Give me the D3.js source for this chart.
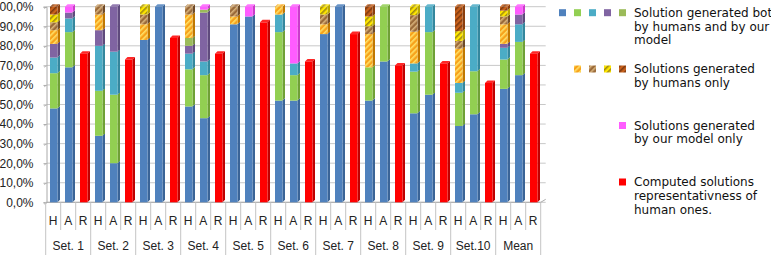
<!DOCTYPE html>
<html>
<head>
<meta charset="utf-8">
<script src="https://cdn.jsdelivr.net/npm/d3@7"></script>
<style>
  body { margin: 0; background: #fff; }
  svg { display: block; }
  .aLabel { font-family: "Liberation Sans", Arial, sans-serif; font-size: 12px; fill: #222; }
  .legText { font-family: "DejaVu Sans", sans-serif; font-size: 12px; fill: #111; }
</style>
</head>
<body>
<div id="chart"></div>
<script>
var width = 771;
var height = 255;

// categories
var sets = ["Set. 1", "Set. 2", "Set. 3", "Set. 4", "Set. 5", "Set. 6", "Set. 7", "Set. 8", "Set. 9", "Set.10", "Mean"];
var kinds = ["H", "A", "R"];
var yTicks = ["0,0%", "10,0%", "20,0%", "30,0%", "40,0%", "50,0%", "60,0%", "70,0%", "80,0%", "90,0%", "100,0%"];

// series values, one per category (Set1 H, A, R, Set2 H, A, R, ...)
var blue    = [48, 69, 0,  34, 20, 0,  83, 100, 0,  49, 43, 0,  91, 95, 0,  52, 52, 0,  86, 100, 0,  52, 72, 0,  45.5, 55, 0,  39, 45, 0,  58, 65, 0];
var green   = [18, 18, 0,  23, 35, 0,  0, 0, 0,    19, 22, 0,  0, 0, 0,    35, 13, 0,  0, 0, 0,     17, 28, 0,  21.3, 32, 0,  17, 22, 0,  15, 17, 0];
var cyan    = [8, 7, 0,    23, 22, 0,  0, 0, 0,    8, 7, 0,    0, 0, 0,    9, 6, 0,    0, 0, 0,     0, 0, 0,    4.2, 13, 0,   5, 33, 0,   6, 9, 0];
var purple  = [7, 3, 0,    8, 23, 0,   0, 0, 0,    4, 25, 0,   0, 0, 0,    0, 0, 0,    0, 0, 0,     0, 0, 0,    0, 0, 0,      0, 0, 0,    2, 5, 0];
var olive   = [0, 0, 0,    0, 0, 0,    0, 0, 0,    4, 1.5, 0,  0, 0, 0,    0, 0, 0,    0, 0, 0,     0, 0, 0,    0, 0, 0,      0, 0, 0,    0, 0, 0];
var hOrange = [7, 0, 0,    8, 0, 0,    8, 0, 0,    12, 0, 0,   4, 0, 0,    4, 0, 0,    5, 0, 0,     17, 0, 0,   16.2, 0, 0,   17.5, 0, 0, 10, 0, 0];
var hBrown  = [4, 0, 0,    4, 0, 0,    5, 0, 0,    4, 0, 0,    5, 0, 0,    0, 0, 0,    5, 0, 0,     4, 0, 0,    8.5, 0, 0,    4, 0, 0,    4, 0, 0];
var hYellow = [4, 0, 0,    0, 0, 0,    4, 0, 0,    0, 0, 0,    0, 0, 0,    0, 0, 0,    4, 0, 0,     5, 0, 0,    4.3, 0, 0,    5, 0, 0,    3, 0, 0];
var hDark   = [4, 0, 0,    0, 0, 0,    0, 0, 0,    0, 0, 0,    0, 0, 0,    0, 0, 0,    0, 0, 0,     5, 0, 0,    0, 0, 0,      12.5, 0, 0, 2, 0, 0];
var pink    = [0, 3, 0,    0, 0, 0,    0, 0, 0,    0, 1.5, 0,  0, 5, 0,    0, 29, 0,   0, 0, 0,     0, 0, 0,    0, 0, 0,      0, 0, 0,    0, 4, 0];
var red     = [0, 0, 76,   0, 0, 73,   0, 0, 84,   0, 0, 76,   0, 0, 92,   0, 0, 72,   0, 0, 86,    0, 0, 70,   0, 0, 71,     0, 0, 61,   0, 0, 76];

var seriesNames = ["blue", "green", "cyan", "purple", "olive", "hOrange", "hBrown", "hYellow", "hDark", "pink", "red"];
var seriesVals = [blue, green, cyan, purple, olive, hOrange, hBrown, hYellow, hDark, pink, red];
var fills = {
  blue: "#4F81BD", green: "#92CF52", cyan: "#4BACC6", purple: "#8064A2", olive: "#9BBB59",
  hOrange: "url(#pOrange)", hBrown: "url(#pBrown)", hYellow: "url(#pYellow)", hDark: "url(#pDark)",
  pink: "#FF5CFF", red: "#FF0000"
};
var sides = {
  blue: "#3A6497", green: "#6FA036", cyan: "#34879D", purple: "#5F4A7C", olive: "#778F43",
  hOrange: "#C07800", hBrown: "#6E4A28", hYellow: "#B8A800", hDark: "#8C3E0C",
  pink: "#CC3ACC", red: "#C00000"
};

var categories = [];
sets.forEach(function(s) {
  kinds.forEach(function(k) { categories.push(s + "|" + k); });
});

var table = categories.map(function(c, i) {
  var row = { cat: c };
  seriesNames.forEach(function(n, j) { row[n] = seriesVals[j][i]; });
  return row;
});
var stacked = d3.stack().keys(seriesNames)(table);

var svg = d3.select("#chart")
  .append("svg")
  .attr("width", width)
  .attr("height", height);

// hatch patterns
var defs = svg.append("defs");
function hatch(id, base, stripe) {
  var p = defs.append("pattern")
    .attr("id", id)
    .attr("patternUnits", "userSpaceOnUse")
    .attr("width", 4).attr("height", 4)
    .attr("patternTransform", "rotate(-45)");
  p.append("rect").attr("width", 4).attr("height", 4).attr("fill", base);
  p.append("rect").attr("width", 4).attr("height", 1.6).attr("fill", stripe);
}
hatch("pOrange", "#F7A21B", "#FFE066");
hatch("pBrown", "#9A6A3A", "#D8B27A");
hatch("pYellow", "#FFE800", "#A08A10");
hatch("pDark", "#C8611C", "#7E3A10");

var x0 = 45.7, bandW = 15;
var ScaleX = d3.scaleBand()
  .domain(categories)
  .range([x0, x0 + bandW * categories.length])
  .paddingInner(0).paddingOuter(0);
var ScaleY = d3.scaleLinear()
  .domain([0, 100])
  .range([202.3, 6.7]);

var depth = 2.5;
var barOff = 4.3, barW = 7.5;

// gridlines (back wall)
var grid = svg.append("g").attr("class", "grid");
d3.range(0, 101, 10).forEach(function(v) {
  var y = ScaleY(v);
  grid.append("line")
    .attr("x1", 47).attr("x2", x0 + bandW * categories.length + 5)
    .attr("y1", y).attr("y2", y)
    .attr("stroke", "#c8c8c8").attr("stroke-width", 1);
  grid.append("line")
    .attr("x1", 44).attr("x2", 47)
    .attr("y1", y + 2).attr("y2", y)
    .attr("stroke", "#c8c8c8");
});

// y axis
var Y_Axis = d3.axisLeft(ScaleY)
  .tickValues(d3.range(0, 101, 10))
  .tickFormat(function(d, i) { return yTicks[i]; })
  .tickSize(3)
  .tickPadding(10);
var yAxisG = svg.append("g")
  .attr("class", "Y_Axis")
  .attr("transform", "translate(46.5,0)")
  .call(Y_Axis);
yAxisG.select(".domain").attr("stroke", "#aaa");
yAxisG.selectAll(".tick line").attr("stroke", "#aaa");
yAxisG.selectAll(".tick text").attr("class", "aLabel").attr("font-size", null).attr("font-family", null);

// floor line
svg.append("path")
  .attr("d", "M" + x0 + "," + ScaleY(0) + "H" + (x0 + bandW * categories.length) + "l5,-3")
  .attr("fill", "none").attr("stroke", "#aaa");

// bars
var barsG = svg.append("g").attr("class", "bars");
stacked.forEach(function(layer) {
  var key = layer.key;
  layer.forEach(function(d, i) {
    if (d[1] - d[0] <= 0) return;
    var bx = ScaleX(categories[i]) + barOff;
    var yTop = ScaleY(d[1]);
    var yBot = ScaleY(d[0]);
    // side face
    barsG.append("path")
      .attr("d", "M" + (bx + barW) + "," + yBot + "L" + (bx + barW + depth) + "," + (yBot - depth) +
        "L" + (bx + barW + depth) + "," + (yTop - depth) + "L" + (bx + barW) + "," + yTop + "Z")
      .attr("fill", sides[key]);
    // front face
    barsG.append("rect")
      .attr("x", bx).attr("y", yTop)
      .attr("width", barW).attr("height", yBot - yTop)
      .attr("fill", fills[key]);
    // top face for the highest segment
    var total = d3.sum(seriesNames, function(n) { return table[i][n]; });
    if (Math.abs(d[1] - total) < 0.001) {
      barsG.append("path")
        .attr("d", "M" + bx + "," + yTop + "L" + (bx + depth) + "," + (yTop - depth) +
          "L" + (bx + barW + depth) + "," + (yTop - depth) + "L" + (bx + barW) + "," + yTop + "Z")
        .attr("fill", fills[key]).attr("opacity", 0.85);
    }
  });
});

// category axis: separators and labels
var catG = svg.append("g").attr("class", "X_Axis");
categories.forEach(function(c, i) {
  var xs = ScaleX(c);
  catG.append("line")
    .attr("x1", xs).attr("x2", xs)
    .attr("y1", ScaleY(0)).attr("y2", i % 3 === 0 ? 255 : 230)
    .attr("stroke", "#c4c4c4");
  catG.append("text")
    .attr("class", "aLabel")
    .attr("x", xs + bandW / 2).attr("y", 221)
    .attr("text-anchor", "middle").attr("dominant-baseline", "central")
    .text(c.split("|")[1]);
});
catG.append("line")
  .attr("x1", x0 + bandW * categories.length).attr("x2", x0 + bandW * categories.length)
  .attr("y1", ScaleY(0)).attr("y2", 255).attr("stroke", "#c4c4c4");
sets.forEach(function(s, i) {
  catG.append("text")
    .attr("class", "aLabel")
    .attr("x", ScaleX(s + "|A") + bandW / 2).attr("y", 246)
    .attr("text-anchor", "middle").attr("dominant-baseline", "central")
    .text(s);
});

// legend
var legend = svg.append("g").attr("class", "legend");
var legGroups = [
  { keys: ["blue", "green", "cyan", "purple", "olive"], y: 12.7,
    lines: ["Solution generated both", "by humans and by our", "model"] },
  { keys: ["hOrange", "hBrown", "hYellow", "hDark"], y: 69,
    lines: ["Solutions generated", "by humans only"] },
  { keys: ["pink"], y: 125.5,
    lines: ["Solutions generated", "by our model only"] },
  { keys: ["red"], y: 182,
    lines: ["Computed solutions", "representativness of", "human ones."] }
];
legGroups.forEach(function(g) {
  var n = g.keys.length;
  g.keys.forEach(function(k, j) {
    legend.append("rect")
      .attr("x", 619 - (n - 1 - j) * 15).attr("y", g.y - 3.5)
      .attr("width", 7).attr("height", 7)
      .attr("fill", fills[k]);
  });
  g.lines.forEach(function(t, j) {
    legend.append("text")
      .attr("class", "legText")
      .attr("x", 634).attr("y", g.y + j * 13.8)
      .attr("dominant-baseline", "central")
      .text(t);
  });
});
</script>
</body>
</html>
